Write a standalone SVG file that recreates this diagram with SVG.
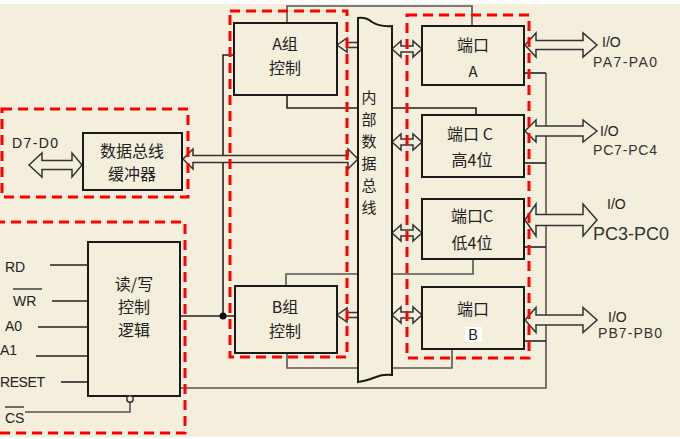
<svg xmlns="http://www.w3.org/2000/svg" width="680" height="439" viewBox="0 0 680 439">
<style>
.box{fill:#F4EEDD;stroke:#1a1a1a;stroke-width:2}
.dash{fill:none;stroke:#FF0000;stroke-width:3;stroke-dasharray:10 6}
.ln{fill:none;stroke:#222;stroke-width:1.6}
.gl{fill:none;stroke:#555;stroke-width:1.6}
.arr{fill:#F4EEDD;stroke:#333;stroke-width:1.5;stroke-linejoin:miter}
.cn{font-family:"Noto Sans CJK SC","Noto Sans",sans-serif;font-size:16px;fill:#222;text-anchor:middle}
.bus{font-family:"Noto Sans CJK SC","Noto Sans",sans-serif;font-size:15px;fill:#222;text-anchor:middle}
.lb{font-family:"Liberation Sans",Arial,sans-serif;font-size:14px;fill:#222}
.io{font-family:"Liberation Sans",Arial,sans-serif;font-size:14px;fill:#333}
.io2{font-family:"Liberation Sans",Arial,sans-serif;font-size:18px;fill:#333}
</style>
<rect x="0" y="0" width="680" height="439" fill="#F4EEDD"/>
<rect x="0" y="0" width="680" height="4" fill="#FFFFFF"/>
<rect x="0" y="437" width="680" height="2" fill="#FFFFFF"/>

<g id="connectors">
  <polyline class="gl" points="287,23 287,6 472,6 472,26"/>
  <polyline class="ln" points="287,95 287,108 392,108 476,108 476,115"/>
  <polyline class="gl" points="286,286 286,274 392,274 473,274 473,259"/>
  <polyline class="gl" points="287,353 287,368 392,368 452,368 452,349"/>
  <polyline class="ln" points="234,55 223,55 223,316"/>
  <line class="ln" x1="180" y1="316" x2="235" y2="316"/>
  <circle cx="223" cy="316" r="3.5" fill="#111"/>
  <polyline class="gl" points="180,388 546,388 546,73"/>
  <line class="ln" x1="524" y1="73" x2="546" y2="73"/>
  <line class="ln" x1="524" y1="163" x2="546" y2="163"/>
  <line class="ln" x1="524" y1="247" x2="546" y2="247"/>
  <line class="ln" x1="524" y1="341" x2="546" y2="341"/>
  <line class="ln" x1="50" y1="265" x2="88" y2="265"/>
  <line class="ln" x1="52" y1="301" x2="88" y2="301"/>
  <line class="ln" x1="38" y1="327" x2="88" y2="327"/>
  <line class="ln" x1="36" y1="356" x2="88" y2="356"/>
  <line class="ln" x1="61" y1="382" x2="88" y2="382"/>
  <polyline class="gl" points="25,412 130,412 130,402"/>
  <polygon class="arr" points="29,165 42,153 42,160.5 72,160.5 72,153 82,165 72,177 72,169.5 42,169.5 42,177"/>
  <polygon class="arr" points="183,159 193,149 193,155.5 348,155.5 348,149 358,159 348,169 348,162.5 193,162.5 193,169"/>
  <polygon class="arr" points="337,45 347,38 347,42.5 358,42.5 358,47.5 347,47.5 347,52"/>
  <polygon class="arr" points="337,315 347,308 347,312.5 358,312.5 358,317.5 347,317.5 347,322"/>
  <polygon class="arr" points="392,49 401,41 401,46 413,46 413,41 422,49 413,57 413,52 401,52 401,57"/>
  <polygon class="arr" points="392,142 401,134 401,139 413,139 413,134 422,142 413,150 413,145 401,145 401,150"/>
  <polygon class="arr" points="392,233 401,225 401,230 413,230 413,225 422,233 413,241 413,236 401,236 401,241"/>
  <polygon class="arr" points="392,315 401,307 401,312 413,312 413,307 422,315 413,323 413,318 401,318 401,323"/>
  <polygon class="arr" points="525,45 536,33 536,40.5 583,40.5 583,33 597,45 583,57 583,49.5 536,49.5 536,57"/>
  <polygon class="arr" points="525,131 536,120 536,126 583,126 583,120 597,131 583,142 583,136 536,136 536,142"/>
  <polygon class="arr" points="525,220 536,204 536,214.5 583,214.5 583,204 597,220 583,236 583,225.5 536,225.5 536,236"/>
  <polygon class="arr" points="525,320 536,307.5 536,315 583,315 583,307.5 597,320 583,332.5 583,325 536,325 536,332.5"/>
</g>

<g id="buffer">
  <rect class="box" x="83" y="133" width="99" height="57"/>
  <text class="cn" x="132" y="157">数据总线</text>
  <text class="cn" x="132" y="180">缓冲器</text>
  <text class="lb" x="12" y="148" textLength="46">D7-D0</text>
</g>

<g id="rw-logic">
  <rect class="box" x="88" y="242" width="92" height="154"/>
  <text class="cn" x="134" y="290">读/写</text>
  <text class="cn" x="134" y="313">控制</text>
  <text class="cn" x="134" y="336">逻辑</text>
  <circle cx="130" cy="399" r="3.2" fill="#F4EEDD" stroke="#333" stroke-width="1.4"/>
  <text class="lb" x="5" y="272">RD</text>
  <text class="lb" x="13" y="306">WR</text>
  <line x1="13" y1="289" x2="42" y2="289" stroke="#222" stroke-width="1.3"/>
  <text class="lb" x="5" y="331">A0</text>
  <text class="lb" x="0" y="355">A1</text>
  <text class="lb" x="0" y="387" textLength="45">RESET</text>
  <text class="lb" x="5" y="423">CS</text>
  <line x1="5" y1="407" x2="24" y2="407" stroke="#222" stroke-width="1.3"/>
</g>

<g id="a-ctrl">
  <rect class="box" x="234" y="23" width="103" height="72"/>
  <text class="cn" x="285" y="50">A组</text>
  <text class="cn" x="285" y="74">控制</text>
</g>

<g id="b-ctrl">
  <rect class="box" x="235" y="286" width="102" height="67" stroke-width="2.6"/>
  <text class="cn" x="285" y="313">B组</text>
  <text class="cn" x="285" y="337">控制</text>
</g>

<g id="internal-bus">
  <path class="box" d="M358,18 Q366,17 372,22 Q380,27 392,26 L392,375 Q383,374 376,377 Q366,381 358,382 Z"/>
  <text class="bus" x="369" y="103">内</text>
  <text class="bus" x="369" y="125">部</text>
  <text class="bus" x="369" y="147">数</text>
  <text class="bus" x="369" y="169">据</text>
  <text class="bus" x="369" y="191">总</text>
  <text class="bus" x="369" y="213">线</text>
</g>

<g id="port-a">
  <rect class="box" x="422" y="26" width="102" height="59"/>
  <text class="cn" x="473" y="51">端口</text>
  <text class="bus" x="473" y="77">A</text>
  <text class="lb" x="602" y="47">I/O</text>
  <text class="io" x="593" y="67" textLength="64">PA7-PA0</text>
</g>

<g id="port-c-upper">
  <rect class="box" x="422" y="115" width="102" height="62"/>
  <text class="cn" x="470" y="140">端口 C</text>
  <text class="cn" x="472" y="166">高4位</text>
  <text class="lb" x="600" y="136">I/O</text>
  <text class="io" x="593" y="155" textLength="64">PC7-PC4</text>
</g>

<g id="port-c-lower">
  <rect class="box" x="422" y="199" width="102" height="60"/>
  <text class="cn" x="472" y="222">端口C</text>
  <text class="cn" x="472" y="249">低4位</text>
  <text class="lb" x="607" y="209">I/O</text>
  <text class="io2" x="593" y="240">PC3-PC0</text>
</g>

<g id="port-b">
  <rect class="box" x="422" y="287" width="102" height="62"/>
  <text class="cn" x="473" y="315">端口</text>
  <rect x="465" y="327" width="17" height="15" fill="#FFFFFF"/>
  <text class="bus" x="473" y="340">B</text>
  <text class="lb" x="608" y="322">I/O</text>
  <text class="io" x="598" y="338" textLength="64">PB7-PB0</text>
</g>

<g id="groups">
  <rect class="dash" x="2" y="109" width="186" height="88"/>
  <rect class="dash" x="-5" y="222" width="190" height="211"/>
  <rect class="dash" x="230" y="11" width="117" height="346"/>
  <rect class="dash" x="407" y="15" width="122" height="343"/>
</g>
</svg>
